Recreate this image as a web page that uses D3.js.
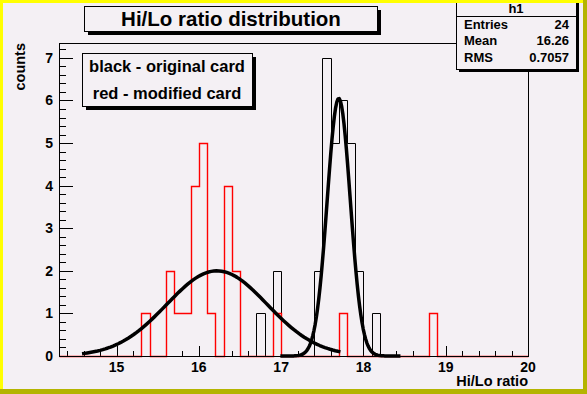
<!DOCTYPE html>
<html>
<head>
<meta charset="utf-8">
<script src="https://cdn.jsdelivr.net/npm/d3@7"></script>
<style>
  body { margin: 0; background: #f4f0f4; }
  text { font-family: 'Liberation Sans', Arial, sans-serif; font-weight: bold; fill: #000; }
</style>
</head>
<body>
<svg id="chart" width="587" height="394"></svg>
<script>
// histogram h1 (red, modified card): lower bin edge -> entries
const redBins = [15.3, 15.6, 15.7, 15.8, 15.9, 16.0, 16.1, 16.3, 16.4, 16.9, 17.7, 18.8];
const redCounts = [1, 2, 1, 1, 4, 5, 1, 4, 2, 1, 1, 1];

// black, original card
const blackBins = [16.7, 16.9, 17.4, 17.5, 17.6, 17.7, 17.8, 17.9, 18.1, 18.8];
const blackCounts = [1, 2, 2, 7, 5, 6, 5, 2, 1, 1];

// gaus fits: [constant, mean, sigma], fit range
const redFit = [2.0, 16.22, 0.61];
const redFitRange = [14.58, 17.72];
const blackFit = [6.05, 17.70, 0.14];
const blackFitRange = [16.99, 18.45];

const xTicks = [15, 16, 17, 18, 19, 20];
const yTicks = [0, 1, 2, 3, 4, 5, 6, 7];
const statsLabels = ['Entries', 'Mean', 'RMS'];
const statsValues = ['24', '16.26', '0.7057'];
const legendLines = ['black - original card', 'red - modified card'];

const XMIN = 14.3, XMAX = 20, BINW = 0.1, YMAX = 7.35;
const BG = '#f4f0f4';

const svg = d3.select('#chart');
const W = 587, H = 394;
const frame = { left: 59, right: 528, top: 43, bottom: 356 };

const x = d3.scaleLinear().domain([XMIN, XMAX]).range([frame.left, frame.right]);
const y = d3.scaleLinear().domain([0, YMAX]).range([frame.bottom, frame.top]);

// canvas + border
svg.append('rect').attr('width', W).attr('height', H).attr('fill', BG);
svg.append('rect').attr('x', 0).attr('y', H - 5).attr('width', W).attr('height', 5).attr('fill', '#b4b400');
svg.append('rect').attr('x', W - 4).attr('y', 0).attr('width', 4).attr('height', H).attr('fill', '#b4b400');
svg.append('rect').attr('x', 0).attr('y', 0).attr('width', W - 4).attr('height', 3).attr('fill', '#ffff00');
svg.append('rect').attr('x', 0).attr('y', 0).attr('width', 3).attr('height', H - 5).attr('fill', '#ffff00');

// build full bin contents
function fillBins(edges, counts) {
    const n = Math.round((XMAX - XMIN) / BINW);
    const h = new Array(n).fill(0);
    edges.forEach((e, i) => { h[Math.round((e - XMIN) / BINW)] = counts[i]; });
    return h;
}

function stepPath(h) {
    const pts = [[XMIN, 0]];
    h.forEach((c, i) => {
        const lo = XMIN + i * BINW;
        pts.push([lo, c]);
        pts.push([lo + BINW, c]);
    });
    pts.push([XMAX, 0]);
    return d3.line().x(d => Math.round(x(d[0])) + 0.5).y(d => Math.round(y(d[1])) + 0.5)(pts);
}

const g = svg.append('g');

// axis ticks
const yMinor = d3.range(0, YMAX + 1e-9, 0.2);
g.append('g').selectAll('line')
    .data(yMinor)
    .enter()
    .append('line')
    .attr('x1', frame.left)
    .attr('x2', d => frame.left + (Math.abs(d - Math.round(d)) < 1e-6 ? 14 : 7))
    .attr('y1', d => Math.round(y(d)) + 0.5)
    .attr('y2', d => Math.round(y(d)) + 0.5)
    .attr('stroke', '#000');

const xMinor = d3.range(14.4, XMAX + 1e-9, 0.2);
g.append('g').selectAll('line')
    .data(xMinor)
    .enter()
    .append('line')
    .attr('x1', d => Math.round(x(d)) + 0.5)
    .attr('x2', d => Math.round(x(d)) + 0.5)
    .attr('y1', frame.bottom)
    .attr('y2', d => frame.bottom - (Math.abs(d - Math.round(d)) < 1e-6 ? 10 : 5))
    .attr('stroke', '#000');

g.append('g').selectAll('text')
    .data(yTicks)
    .enter()
    .append('text')
    .attr('x', 53)
    .attr('y', d => y(d) + 5)
    .attr('text-anchor', 'end')
    .attr('font-size', 14)
    .text(d => d);

g.append('g').selectAll('text')
    .data(xTicks)
    .enter()
    .append('text')
    .attr('x', d => x(d))
    .attr('y', 372)
    .attr('text-anchor', 'middle')
    .attr('font-size', 14)
    .text(d => d);

// axis titles
g.append('text')
    .attr('x', frame.right)
    .attr('y', 386)
    .attr('text-anchor', 'end')
    .attr('font-size', 14.5)
    .text('Hi/Lo ratio');

g.append('text')
    .attr('transform', `translate(25,${frame.top}) rotate(-90)`)
    .attr('text-anchor', 'end')
    .attr('font-size', 14.5)
    .text('counts');

// histograms
g.append('path')
    .attr('d', stepPath(fillBins(blackBins, blackCounts)))
    .attr('fill', 'none')
    .attr('stroke', '#000')
    .attr('stroke-width', 1);

g.append('path')
    .attr('d', stepPath(fillBins(redBins, redCounts)))
    .attr('fill', 'none')
    .attr('stroke', '#ff0000')
    .attr('stroke-width', 1.4);

// fit functions, 100 points over the fit range like TF1
function fitPath(p, range) {
    const pts = d3.range(0, 101).map(i => {
        const v = range[0] + (range[1] - range[0]) * i / 100;
        return [v, p[0] * Math.exp(-0.5 * Math.pow((v - p[1]) / p[2], 2))];
    });
    return d3.line().x(d => x(d[0])).y(d => y(d[1]))(pts);
}

[[redFit, redFitRange], [blackFit, blackFitRange]].forEach(f => {
    g.append('path')
        .attr('d', fitPath(f[0], f[1]))
        .attr('fill', 'none')
        .attr('stroke', '#000')
        .attr('stroke-width', 3.5)
        .attr('stroke-linejoin', 'round');
});

// frame
g.append('rect')
    .attr('x', frame.left + 0.5)
    .attr('y', frame.top + 0.5)
    .attr('width', frame.right - frame.left)
    .attr('height', frame.bottom - frame.top)
    .attr('fill', 'none')
    .attr('stroke', '#000');

// pave with shadow
function pave(x0, y0, x1, y1, s) {
    svg.append('rect').attr('x', x0 + s).attr('y', y0 + s).attr('width', x1 - x0).attr('height', y1 - y0).attr('fill', '#000');
    svg.append('rect').attr('x', x0 + 0.5).attr('y', y0 + 0.5).attr('width', x1 - x0).attr('height', y1 - y0)
        .attr('fill', BG).attr('stroke', '#000');
}

// title
pave(84, 6, 377, 31, 4);
svg.append('text')
    .attr('x', 231)
    .attr('y', 26)
    .attr('text-anchor', 'middle')
    .attr('font-size', 20.5)
    .text('Hi/Lo ratio distribution');

// legend
pave(82, 53, 252, 106, 4);
svg.selectAll('text.leg')
    .data(legendLines)
    .enter()
    .append('text')
    .attr('class', 'leg')
    .attr('x', 167)
    .attr('y', (d, i) => 72 + i * 27)
    .attr('text-anchor', 'middle')
    .attr('font-size', 16.5)
    .text(d => d);

// stats box
pave(456, 0, 576, 69, 3);
svg.append('line')
    .attr('x1', 456).attr('x2', 576)
    .attr('y1', 16.5).attr('y2', 16.5)
    .attr('stroke', '#000');
svg.append('text')
    .attr('x', 516).attr('y', 13)
    .attr('text-anchor', 'middle')
    .attr('font-size', 13)
    .text('h1');
svg.selectAll('text.slab')
    .data(statsLabels)
    .enter()
    .append('text')
    .attr('class', 'slab')
    .attr('x', 464)
    .attr('y', (d, i) => 29 + i * 16.3)
    .attr('font-size', 13)
    .text(d => d);
svg.selectAll('text.sval')
    .data(statsValues)
    .enter()
    .append('text')
    .attr('class', 'sval')
    .attr('x', 569)
    .attr('y', (d, i) => 29 + i * 16.3)
    .attr('text-anchor', 'end')
    .attr('font-size', 13)
    .text(d => d);

// redraw yellow top border over stats box
svg.append('rect').attr('x', 0).attr('y', 0).attr('width', W - 4).attr('height', 3).attr('fill', '#ffff00');
</script>
</body>
</html>
